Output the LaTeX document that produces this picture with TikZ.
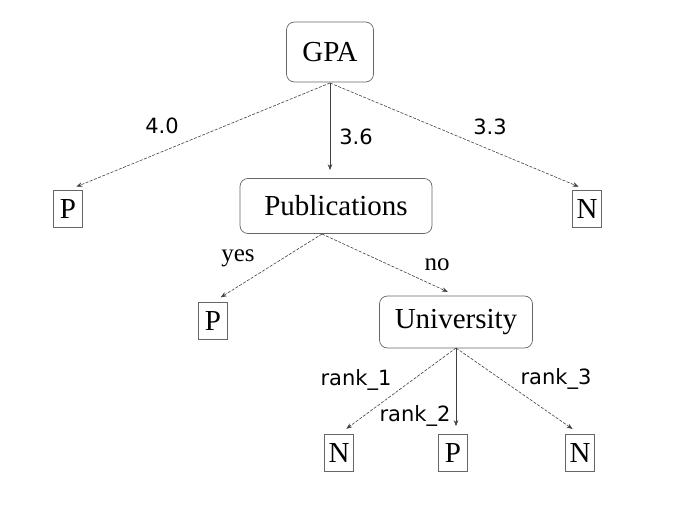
\documentclass[tikz,border=0pt]{standalone}
\usepackage{fontspec}
\setmainfont{Liberation Serif}
\newfontfamily\lblfont{DejaVu Sans}
\usetikzlibrary{arrows.meta}
\begin{document}
\begin{tikzpicture}[x=1pt,y=-1pt,
  inner/.style={draw=black!60, line width=0.7pt, rounded corners=8pt, font=\fontsize{29}{32}\selectfont, inner sep=0pt},
  leaf/.style={draw=black!60, line width=0.7pt, font=\fontsize{29}{32}\selectfont, inner sep=0pt, minimum width=29pt, minimum height=37pt},
  edge/.style={draw=black!75, line width=0.6pt, dash pattern=on 3pt off 1.5pt, -{Stealth[length=6pt,width=4.5pt]}, shorten >=9pt},
  sedge/.style={draw=black!75, line width=0.6pt, -{Stealth[length=6pt,width=4.5pt]}, shorten >=8pt},
  slbl/.style={font=\lblfont\fontsize{21}{24}\selectfont, inner sep=0pt},
  rlbl/.style={font=\fontsize{25}{28}\selectfont, inner sep=0pt}]
\useasboundingbox[fill=white] (0,0) rectangle (699,524);
\node[inner, minimum width=87pt, minimum height=60pt] (gpa) at (330,52) {GPA};
\node[leaf] (p1) at (68,209) {P};
\node[inner, minimum width=192pt, minimum height=55pt] (pub) at (336,206) {Publications};
\node[leaf] (n1) at (587,209) {N};
\node[leaf] (p2) at (213,321) {P};
\node[inner, minimum width=153pt, minimum height=52pt] (uni) at (456,322) {University};
\node[leaf] (n2) at (339,453) {N};
\node[leaf] (p3) at (453,453) {P};
\node[leaf] (n3) at (580,453) {N};
\coordinate (gpab) at (330,83);
\coordinate (pubb) at (322,234);
\coordinate (unib) at (456,348);
\draw[edge] (gpab) -- (p1.north);
\draw[sedge] (gpab) -- (pub.north -| gpab);
\draw[edge] (gpab) -- (n1.north);
\draw[edge] (pubb) -- (p2.north);
\draw[edge] (pubb) -- (uni.north);
\draw[edge] (unib) -- (n2.north);
\draw[sedge] (unib) -- (p3.north -| unib);
\draw[edge] (unib) -- (n3.north);
\node[slbl] (l40) at (162,126) {4.0};
\node[slbl] (l36) at (356,137) {3.6};
\node[slbl] (l33) at (490,127) {3.3};
\node[rlbl] (lyes) at (238,258) {yes};
\node[rlbl] (lno) at (437,265) {no};
\node[slbl] (r1) at (356,380) {rank\_1};
\node[slbl] (r2) at (415,416) {rank\_2};
\node[slbl] (r3) at (556,379) {rank\_3};
\end{tikzpicture}
\end{document}
